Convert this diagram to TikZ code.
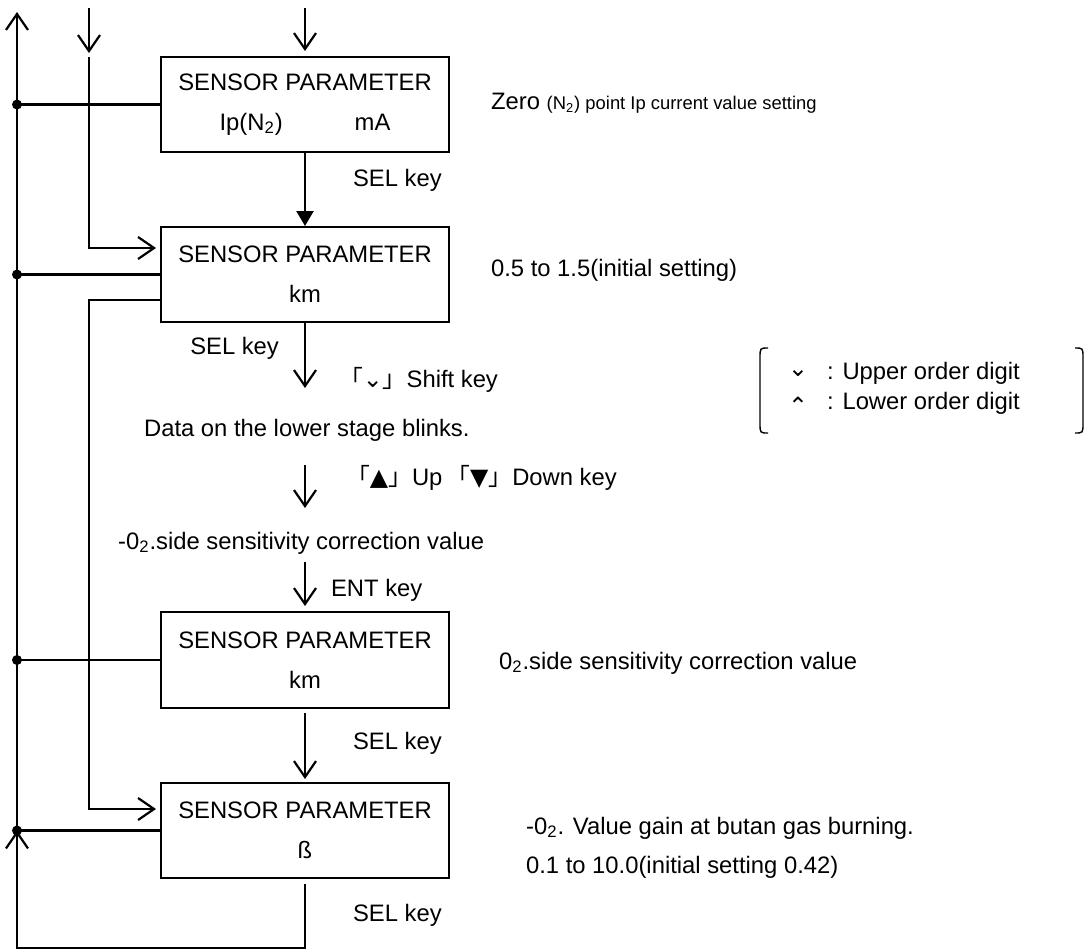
\documentclass[tikz,border=0pt]{standalone}
\usepackage{fontspec}
\setmainfont{Liberation Sans}
\newfontfamily\cjk{Noto Sans CJK JP}
\newfontfamily\sym{DejaVu Sans}
\usetikzlibrary{arrows.meta,positioning}
\tikzstyle{block} = [rectangle, draw, line width=1pt, minimum width=144pt,
    minimum height=47.5pt, align=center, inner sep=0pt]
\tikzstyle{note} = [anchor=west, inner sep=0pt]
\tikzstyle{dot} = [circle, fill, inner sep=0pt, minimum size=5pt]
\newcommand{\smallfont}{\fontsize{9.2}{11}\selectfont}

\begin{document}
\begin{tikzpicture}[x=0.5pt,y=-0.5pt,line width=1.1pt,
                    >={Straight Barb[length=8pt,width=11pt]},
                    node distance=36.5pt,
                    font=\fontsize{11.9}{20}\selectfont]
  \useasboundingbox (0,0) rectangle (1087,950);

  % the four parameter boxes
  \node[block] (1) at (305,104.5) {SENSOR PARAMETER\\Ip(N\textsubscript{2})\hspace{36pt}mA};
  \node[block] (2) [below=of 1] {SENSOR PARAMETER\\km};
  \node[block, minimum height=48pt] (3) [below=144pt of 2] {SENSOR PARAMETER\\km};
  \node[block] (4) [below=of 3] {SENSOR PARAMETER\\ß};

  % notes on the right
  \node[note] (n1) at (490,103) {Zero {\smallfont (N\textsubscript{2}) point Ip current value setting}};
  \node[note] (n2) at (490,270) {0.5 to 1.5(initial setting)};
  \node[note] (n3) at (498,663) {0\textsubscript{2}.side sensitivity correction value};
  \node[note] (n4) at (525,828) {-0\textsubscript{2}. Value gain at butan gas burning.};
  \node[note] (n5) at (525,867) {0.1 to 10.0(initial setting 0.42)};

  % legend
  \node (u1) at (798,373) {\sym ⌄};
  \node[note] (u2) at (826,373) {: Upper order digit};
  \node (l1) at (798,406) {\sym ⌃};
  \node[note] (l2) at (826,403) {: Lower order digit};
  \draw[line width=0.7pt] (768,348) .. controls (760,348) .. (760,358) -- (760,423)
        .. controls (760,433) .. (768,433);
  \draw[line width=0.7pt] (1075,348) .. controls (1083,348) .. (1083,358) -- (1083,423)
        .. controls (1083,433) .. (1075,433);

  % key labels along the main column
  \node[note] (k1) at (352,180) {SEL key};
  \node[note, anchor=east] (k2) at (280,348) {SEL key};
  \node[note] (k3) at (338,380) {{\cjk 「}{\sym ⌄}{\cjk 」}Shift key};
  \node[note] (k4) at (143,430) {Data on the lower stage blinks.};
  \node[note] (k5) at (345,478) {{\cjk 「}{\sym ▲}{\cjk 」}Up\,{\cjk 「}{\sym ▼}{\cjk 」}Down key};
  \node[note] (k6) at (117,543) {-0\textsubscript{2}.side sensitivity correction value};
  \node[note] (k7) at (330,590) {ENT key};
  \node[note] (k8) at (352,743) {SEL key};
  \node[note] (k9) at (352,915) {SEL key};

  % main column arrows
  \coordinate (in1) at (305,8);
  \coordinate (a1) at (305,388);
  \coordinate (a2) at (305,465);
  \coordinate (a3) at (305,508);
  \coordinate (a4) at (305,562);
  \draw[->, shorten >=2.5pt] (in1) -- (1.north);
  \draw[-{Triangle[length=7.5pt,width=8.5pt]}] (1) -- (2);
  \draw[->] (2.south) -- (a1);
  \draw[->] (a2) -- (a3);
  \draw[->, shorten >=2.5pt] (a4) -- (3.north);
  \draw[->, shorten <=2pt, shorten >=1.5pt] (3) -- (4);

  % left return line with junctions
  \coordinate (top) at (17,12);
  \coordinate (bot) at (305,948);
  \node[dot] (d1) at (1.west -| top) {};
  \node[dot] (d2) at (2.west -| top) {};
  \node[dot] (d3) at (3.west -| top) {};
  \node[dot] (d4) at (4.west -| top) {};
  \draw[->] (d4.center) -- (top);
  \draw (d1.center) -- (1.west);
  \draw (d2.center) -- (2.west);
  \draw (d3.center) -- (3.west);
  \draw (d4.center) -- (4.west);
  \draw[->, shorten <=2.5pt] (4.south) -- (bot) -| (d4.center);

  % second input line
  \coordinate (in2) at (89,8);
  \coordinate (in2e) at (89,53);
  \coordinate (in2b) at (89,57);
  \coordinate (j2) at (89,248);
  \draw[->] (in2) -- (in2e);
  \draw[->, shorten >=2pt] (in2b) -- (j2) -- (j2 -| 2.west);

  % from km box down to the beta box
  \coordinate (m2) at ([yshift=-12.75pt]2.west);
  \coordinate (m4) at ([yshift=10.75pt]4.west);
  \draw[->, shorten >=2pt] (m2) -- (m2 -| in2) -- (m4 -| in2) -- (m4);
\end{tikzpicture}
\end{document}
